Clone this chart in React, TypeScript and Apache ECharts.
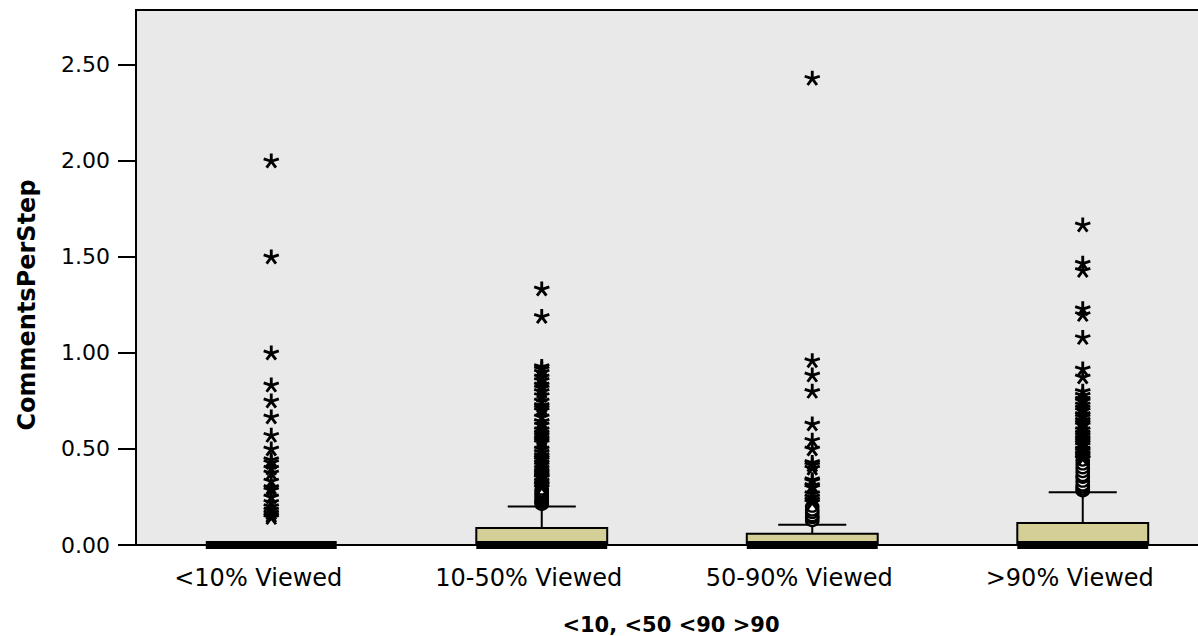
import React, { useEffect, useRef } from "react";
import * as echarts from "echarts";

const categories = ["<10% Viewed", "10-50% Viewed", "50-90% Viewed", ">90% Viewed"];
const yTicks = [0, 0.5, 1, 1.5, 2, 2.5];
const xTitle = "<10, <50 <90 >90";
const yTitle = "CommentsPerStep";

const whiskerLow = [0, 0, 0, 0];
const q1 = [0, 0, 0, 0];
const median = [0, 0, 0, 0];
const q3 = [0, 0.088, 0.058, 0.115];
const whiskerHigh = [0, 0.2, 0.105, 0.275];

const circles1: number[] = [];
const circles2 = [0.21, 0.22, 0.225, 0.23, 0.24, 0.25, 0.26, 0.27, 0.28, 0.29];
const circles3 = [0.125, 0.14, 0.15, 0.167, 0.18, 0.2];
const circles4 = [0.28, 0.29, 0.3, 0.31, 0.33, 0.35, 0.36, 0.38, 0.4, 0.42, 0.44];

const stars1 = [2.0, 1.5, 1.0, 0.833, 0.75, 0.667, 0.571, 0.5, 0.444, 0.429, 0.4, 0.375, 0.333, 0.3, 0.286, 0.25, 0.222, 0.2, 0.182, 0.167, 0.154, 0.143];
const stars2 = [1.333, 1.19, 0.929, 0.917, 0.9, 0.875, 0.857, 0.833, 0.818, 0.8, 0.778, 0.75, 0.727, 0.714, 0.7, 0.667, 0.643, 0.625, 0.6, 0.583, 0.571, 0.556, 0.545, 0.533, 0.5, 0.483, 0.467, 0.455, 0.444, 0.429, 0.417, 0.4, 0.385, 0.375, 0.364, 0.357, 0.35, 0.333, 0.32, 0.313, 0.3];
const stars3 = [2.43, 0.96, 0.885, 0.8, 0.63, 0.545, 0.5, 0.43, 0.417, 0.4, 0.34, 0.333, 0.31, 0.3, 0.267, 0.25, 0.235, 0.222];
const stars4 = [1.667, 1.467, 1.43, 1.23, 1.2, 1.08, 0.917, 0.875, 0.8, 0.78, 0.76, 0.75, 0.73, 0.714, 0.7, 0.68, 0.667, 0.65, 0.636, 0.625, 0.6, 0.583, 0.571, 0.556, 0.545, 0.533, 0.52, 0.5, 0.49, 0.476, 0.467, 0.455, 0.45];

const circleGroups = [circles1, circles2, circles3, circles4];
const starGroups = [stars1, stars2, stars3, stars4];

function asteriskPath(): string {
  const L = 50;
  const w = 18;
  const cx = 50;
  const cy = 50;
  let d = "";
  for (let k = 0; k < 5; k++) {
    const t = (k * 72 * Math.PI) / 180;
    const dx = Math.sin(t);
    const dy = -Math.cos(t);
    const nx = Math.cos(t);
    const ny = Math.sin(t);
    const p = [
      [cx + (nx * w) / 2, cy + (ny * w) / 2],
      [cx + dx * L + (nx * w) / 2, cy + dy * L + (ny * w) / 2],
      [cx + dx * L - (nx * w) / 2, cy + dy * L - (ny * w) / 2],
      [cx - (nx * w) / 2, cy - (ny * w) / 2],
    ];
    d += `M${p[0][0].toFixed(2)} ${p[0][1].toFixed(2)}L${p[1][0].toFixed(2)} ${p[1][1].toFixed(2)}L${p[2][0].toFixed(2)} ${p[2][1].toFixed(2)}L${p[3][0].toFixed(2)} ${p[3][1].toFixed(2)}Z`;
  }
  return "path://" + d;
}

export default function App() {
  const ref = useRef<HTMLDivElement>(null);
  useEffect(() => {
    document.body.style.margin = "0";
    const chart = echarts.init(ref.current!, null, { renderer: "svg" });
    const boxData = categories.map((_, i) => [i, whiskerLow[i], q1[i], median[i], q3[i], whiskerHigh[i]]);
    const circleData: number[][] = [];
    circleGroups.forEach((g, i) => g.forEach((v) => circleData.push([i, v])));
    const starData: number[][] = [];
    starGroups.forEach((g, i) => g.forEach((v) => starData.push([i, v])));
    const font = "DejaVu Sans";
    chart.setOption({
      animation: false,
      grid: {
        left: 136,
        top: 10,
        width: 1082,
        bottom: 91,
        outerBoundsMode: "none",
        containLabel: false,
        show: true,
        backgroundColor: "#e9e9e9",
        borderColor: "#000",
        borderWidth: 2,
      },
      graphic: [
        {
          type: "text",
          x: 671,
          y: 625,
          style: {
            text: xTitle,
            fontFamily: font,
            fontWeight: "bold",
            fontSize: 21,
            fill: "#000",
            textAlign: "center",
            textVerticalAlign: "middle",
          },
        },
        {
          type: "text",
          x: 27,
          y: 305,
          rotation: Math.PI / 2,
          style: {
            text: yTitle,
            fontFamily: font,
            fontWeight: "bold",
            fontSize: 24,
            fill: "#000",
            textAlign: "center",
            textVerticalAlign: "middle",
          },
        },
      ],
      xAxis: {
        type: "category",
        data: categories,
        boundaryGap: true,
        axisLine: { lineStyle: { color: "#000", width: 2 } },
        axisTick: { alignWithLabel: true, length: 15, lineStyle: { color: "#000", width: 2 } },
        axisLabel: { fontFamily: font, fontSize: 24, color: "#000", margin: 21, padding: [0, 26, 0, 0] },
        splitLine: { show: false },
      },
      yAxis: {
        type: "value",
        min: 0,
        max: 2.786,
        interval: 0.5,
        axisLine: { show: true, lineStyle: { color: "#000", width: 2 } },
        axisTick: { show: true, length: 18, customValues: yTicks, lineStyle: { color: "#000", width: 2 } },
        axisLabel: {
          fontFamily: font,
          fontSize: 22,
          color: "#000",
          margin: 26,
          customValues: yTicks,
          formatter: (v: number) => v.toFixed(2),
        },
        splitLine: { show: false },
      },
      series: [
        {
          type: "custom",
          data: boxData,
          z: 2,
          renderItem: (params: any, api: any) => {
            const idx = api.value(0);
            const x = api.coord([idx, 0])[0];
            const band = api.size([1, 0])[0];
            const bw = band * 0.484;
            const cw = bw * 0.52;
            const yLow = api.coord([idx, api.value(1)])[1];
            const yQ1 = api.coord([idx, api.value(2)])[1];
            const yMed = api.coord([idx, api.value(3)])[1];
            const yQ3 = api.coord([idx, api.value(4)])[1];
            const yHigh = api.coord([idx, api.value(5)])[1];
            const ls = { stroke: "#000", lineWidth: 2 };
            const children: any[] = [];
            if (yHigh < yQ3) {
              children.push({ type: "line", shape: { x1: x, y1: yQ3, x2: x, y2: yHigh }, style: ls });
              children.push({ type: "line", shape: { x1: x - cw / 2, y1: yHigh, x2: x + cw / 2, y2: yHigh }, style: ls });
            }
            if (yLow > yQ1) {
              children.push({ type: "line", shape: { x1: x, y1: yQ1, x2: x, y2: yLow }, style: ls });
              children.push({ type: "line", shape: { x1: x - cw / 2, y1: yLow, x2: x + cw / 2, y2: yLow }, style: ls });
            }
            children.push({
              type: "rect",
              shape: { x: x - bw / 2, y: yQ3, width: bw, height: Math.max(yQ1 - yQ3, 0) },
              style: { fill: "#d3cf97", stroke: "#000", lineWidth: 2 },
            });
            children.push({
              type: "line",
              shape: { x1: x - bw / 2, y1: yMed, x2: x + bw / 2, y2: yMed },
              style: { stroke: "#000", lineWidth: 8 },
            });
            return { type: "group", children };
          },
        },
        {
          type: "scatter",
          data: circleData,
          z: 3,
          symbol: "circle",
          symbolSize: [12, 10],
          itemStyle: { color: "#fff", borderColor: "#000", borderWidth: 2.5, opacity: 1 },
        },
        {
          type: "scatter",
          data: starData,
          z: 4,
          symbol: asteriskPath(),
          symbolSize: [16, 15],
          itemStyle: { color: "#000", opacity: 1 },
        },
      ],
    });
    return () => chart.dispose();
  }, []);
  return <div ref={ref} style={{ width: 1198, height: 636 }} />;
}
